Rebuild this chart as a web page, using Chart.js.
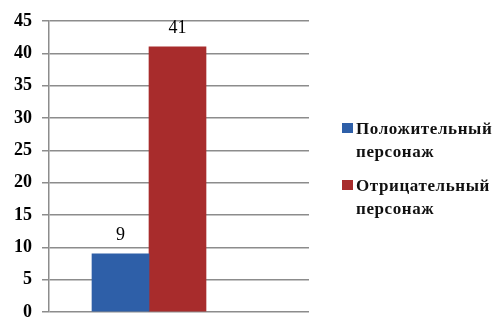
<!DOCTYPE html>
<html><head><meta charset="utf-8">
<script src="https://cdn.jsdelivr.net/npm/chart.js@4/dist/chart.umd.min.js"></script>
<style>html,body{margin:0;padding:0;background:#fff}#wrap{width:496px;height:317px;position:relative}</style>
</head><body><div id="wrap"><canvas id="c"></canvas></div>
<script>
const categories = ['Положительный персонаж', 'Отрицательный персонаж'];
const values = [9, 41];
const colors = ['#2E5FA8', '#A82C2C'];
const yMin = 0, yMax = 45, yStep = 5;
const groupIndex = 0;

const serifFamily = "'Liberation Serif'";

const dataLabels = {
  id: 'dataLabels',
  afterDatasetsDraw(chart) {
    const ctx = chart.ctx;
    ctx.save();
    ctx.font = '18px ' + serifFamily;
    ctx.fillStyle = '#000';
    ctx.textAlign = 'center';
    ctx.textBaseline = 'alphabetic';
    chart.data.datasets.forEach((ds, i) => {
      const el = chart.getDatasetMeta(i).data[0];
      ctx.fillText(String(values[i]), el.x, el.y - 14);
    });
    ctx.restore();
  }
};

const sideLegend = {
  id: 'sideLegend',
  afterDraw(chart) {
    const ctx = chart.ctx;
    ctx.save();
    ctx.font = 'bold 17px ' + serifFamily;
    ctx.letterSpacing = '0.6px';
    ctx.textAlign = 'left';
    ctx.textBaseline = 'alphabetic';
    const tops = [123, 180];
    chart.data.datasets.forEach((ds, i) => {
      const y0 = tops[i];
      ctx.fillStyle = colors[i];
      ctx.fillRect(342, y0, 11, 10);
      ctx.fillStyle = '#111';
      const lines = ds.label.split(' ');
      lines.forEach((ln, j) => ctx.fillText(ln, 356, y0 + 11 + j * 23));
    });
    ctx.restore();
  }
};

new Chart(document.getElementById('c'), {
  type: 'bar',
  data: {
    datasets: categories.map((name, i) => ({
      label: name,
      data: [{ x: groupIndex, y: values[i] }],
      backgroundColor: colors[i],
      borderWidth: 0,
      barThickness: 57
    }))
  },
  options: {
    responsive: true,
    maintainAspectRatio: false,
    animation: false,
    layout: { padding: { top: 21, bottom: 5, left: 0, right: 187 } },
    plugins: { legend: { display: false }, tooltip: { enabled: false } },
    scales: {
      x: { type: 'linear', min: -1, max: 1.6, bounds: 'data', offset: false, display: false },
      y: {
        min: yMin, max: yMax,
        ticks: { stepSize: yStep, padding: 10, color: '#000', font: { family: serifFamily, size: 18, weight: 'bold' } },
        grid: { color: '#8c8c8c', lineWidth: 1.5, tickLength: 7, drawTicks: true },
        border: { display: true, color: '#8c8c8c', width: 1.5 },
        afterFit(scale) { scale.width = 49; scale.paddingTop = 0; scale.paddingBottom = 0; }
      }
    }
  },
  plugins: [dataLabels, sideLegend]
});
</script>
</body></html>
